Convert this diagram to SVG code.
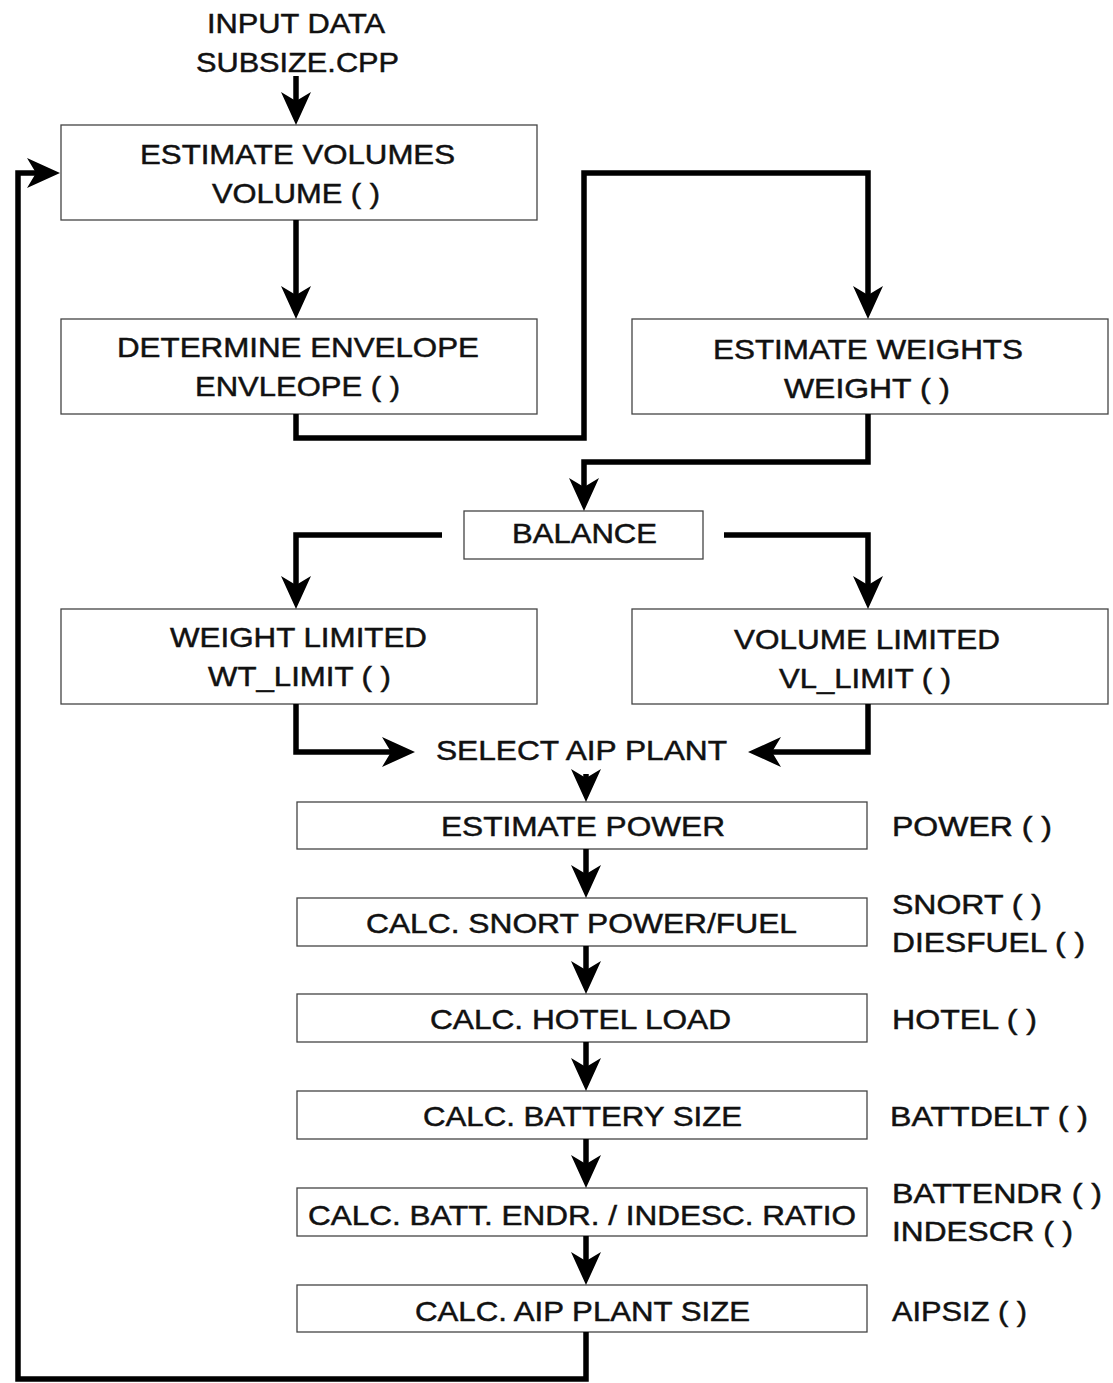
<svg xmlns="http://www.w3.org/2000/svg" width="1113" height="1383" viewBox="0 0 1113 1383">
<style>
.box{fill:#fff;stroke:#444;stroke-width:1.3}
.t{font-family:"Liberation Sans",Arial,sans-serif;font-size:28.5px;fill:#111;stroke:#111;stroke-width:0.5}
.c{fill:none;stroke:#000;stroke-width:5.5;stroke-linejoin:miter}
</style>
<defs>
<marker id="ah" markerUnits="userSpaceOnUse" markerWidth="40" markerHeight="36" viewBox="0 -18 40 36" refX="20" refY="0" orient="auto">
<path d="M0,-15 L33,0 L0,15 L9,0 Z" fill="#000"/>
</marker>
</defs>
<rect width="1113" height="1383" fill="#fff"/>
<g id="input">
<text class="t" x="207" y="33" textLength="178" lengthAdjust="spacingAndGlyphs">INPUT DATA</text>
<text class="t" x="196" y="72" textLength="203" lengthAdjust="spacingAndGlyphs">SUBSIZE.CPP</text>
</g>
<g id="volumes">
<rect class="box" x="61" y="125" width="476" height="95"/>
<text class="t" x="140" y="164" textLength="315" lengthAdjust="spacingAndGlyphs">ESTIMATE VOLUMES</text>
<text class="t" x="212" y="203" textLength="168" lengthAdjust="spacingAndGlyphs">VOLUME ( )</text>
</g>
<g id="envelope">
<rect class="box" x="61" y="319" width="476" height="95"/>
<text class="t" x="117" y="357" textLength="362" lengthAdjust="spacingAndGlyphs">DETERMINE ENVELOPE</text>
<text class="t" x="195" y="396" textLength="205" lengthAdjust="spacingAndGlyphs">ENVLEOPE ( )</text>
</g>
<g id="weights">
<rect class="box" x="632" y="319" width="476" height="95"/>
<text class="t" x="713" y="359" textLength="310" lengthAdjust="spacingAndGlyphs">ESTIMATE WEIGHTS</text>
<text class="t" x="784" y="398" textLength="166" lengthAdjust="spacingAndGlyphs">WEIGHT ( )</text>
</g>
<g id="balance">
<rect class="box" x="464" y="511" width="239" height="48"/>
<text class="t" x="512" y="543" textLength="145" lengthAdjust="spacingAndGlyphs">BALANCE</text>
</g>
<g id="weightlimited">
<rect class="box" x="61" y="609" width="476" height="95"/>
<text class="t" x="170" y="647" textLength="257" lengthAdjust="spacingAndGlyphs">WEIGHT LIMITED</text>
<text class="t" x="208" y="686" textLength="183" lengthAdjust="spacingAndGlyphs">WT_LIMIT ( )</text>
</g>
<g id="volumelimited">
<rect class="box" x="632" y="609" width="476" height="95"/>
<text class="t" x="734" y="649" textLength="266" lengthAdjust="spacingAndGlyphs">VOLUME LIMITED</text>
<text class="t" x="779" y="688" textLength="172" lengthAdjust="spacingAndGlyphs">VL_LIMIT ( )</text>
</g>
<g id="select">
<text class="t" x="436" y="760" textLength="291" lengthAdjust="spacingAndGlyphs">SELECT AIP PLANT</text>
</g>
<g id="power">
<rect class="box" x="297" y="802" width="570" height="47"/>
<text class="t" x="441" y="836" textLength="284" lengthAdjust="spacingAndGlyphs">ESTIMATE POWER</text>
<text class="t" x="892" y="836" textLength="160" lengthAdjust="spacingAndGlyphs">POWER ( )</text>
</g>
<g id="snort">
<rect class="box" x="297" y="898" width="570" height="48"/>
<text class="t" x="366" y="933" textLength="431" lengthAdjust="spacingAndGlyphs">CALC. SNORT POWER/FUEL</text>
<text class="t" x="892" y="914" textLength="150" lengthAdjust="spacingAndGlyphs">SNORT ( )</text>
<text class="t" x="892" y="952" textLength="193" lengthAdjust="spacingAndGlyphs">DIESFUEL ( )</text>
</g>
<g id="hotel">
<rect class="box" x="297" y="994" width="570" height="48"/>
<text class="t" x="430" y="1029" textLength="301" lengthAdjust="spacingAndGlyphs">CALC. HOTEL LOAD</text>
<text class="t" x="892" y="1029" textLength="145" lengthAdjust="spacingAndGlyphs">HOTEL ( )</text>
</g>
<g id="battery">
<rect class="box" x="297" y="1091" width="570" height="48"/>
<text class="t" x="423" y="1126" textLength="319" lengthAdjust="spacingAndGlyphs">CALC. BATTERY SIZE</text>
<text class="t" x="890" y="1126" textLength="198" lengthAdjust="spacingAndGlyphs">BATTDELT ( )</text>
</g>
<g id="endurance">
<rect class="box" x="297" y="1188" width="570" height="48"/>
<text class="t" x="308" y="1225" textLength="548" lengthAdjust="spacingAndGlyphs">CALC. BATT. ENDR. / INDESC. RATIO</text>
<text class="t" x="892" y="1203" textLength="210" lengthAdjust="spacingAndGlyphs">BATTENDR ( )</text>
<text class="t" x="892" y="1241" textLength="181" lengthAdjust="spacingAndGlyphs">INDESCR ( )</text>
</g>
<g id="aipsize">
<rect class="box" x="297" y="1285" width="570" height="47"/>
<text class="t" x="415" y="1321" textLength="335" lengthAdjust="spacingAndGlyphs">CALC. AIP PLANT SIZE</text>
<text class="t" x="892" y="1321" textLength="135" lengthAdjust="spacingAndGlyphs">AIPSIZ ( )</text>
</g>
<g id="connectors">
<path class="c" d="M296,76 V112" marker-end="url(#ah)"/>
<path class="c" d="M296,220 V306" marker-end="url(#ah)"/>
<path class="c" d="M296,414 V438 H584 V173 H868 V306" marker-end="url(#ah)"/>
<path class="c" d="M868,414 V462 H584 V498" marker-end="url(#ah)"/>
<path class="c" d="M442,535 H296 V596" marker-end="url(#ah)"/>
<path class="c" d="M724,535 H868 V596" marker-end="url(#ah)"/>
<path class="c" d="M296,704 V752 H402" marker-end="url(#ah)"/>
<path class="c" d="M868,704 V752 H761" marker-end="url(#ah)"/>
<path class="c" d="M586,774 V789" marker-end="url(#ah)"/>
<path class="c" d="M586,849 V885" marker-end="url(#ah)"/>
<path class="c" d="M586,946 V981" marker-end="url(#ah)"/>
<path class="c" d="M586,1042 V1078" marker-end="url(#ah)"/>
<path class="c" d="M586,1139 V1175" marker-end="url(#ah)"/>
<path class="c" d="M586,1236 V1272" marker-end="url(#ah)"/>
<path class="c" d="M586,1332 V1379 H18 V173 H47" marker-end="url(#ah)"/>
</g>
</svg>
